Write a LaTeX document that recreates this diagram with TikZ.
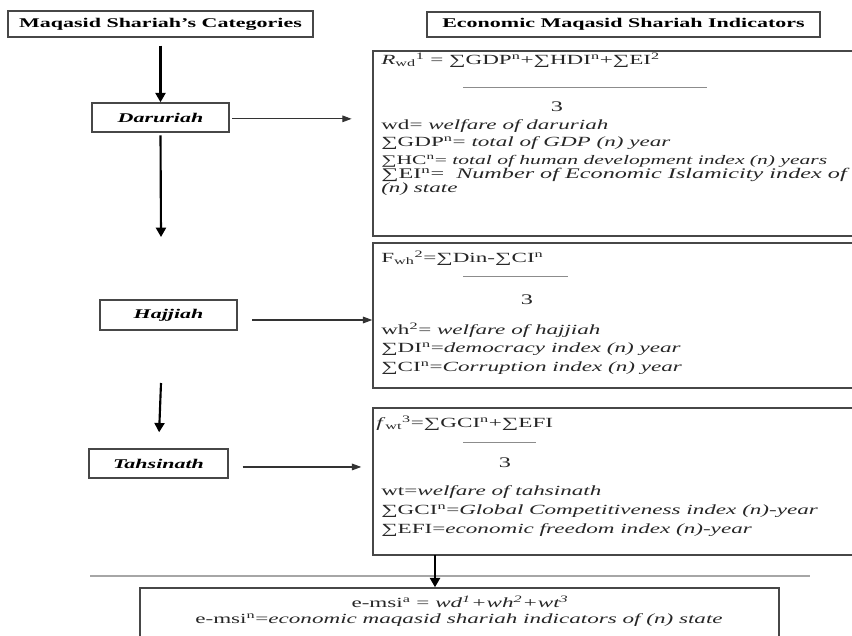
\documentclass[tikz,border=0pt]{standalone}
\usepackage{fontspec}
\setmainfont{Liberation Serif}[FakeStretch=1.65]
\usetikzlibrary{arrows.meta}
\newcommand\supx[1]{\textsuperscript{#1}}
\newcommand\subx[1]{\textsubscript{#1}}
\newcommand\sig{∑}
\begin{document}
\begin{tikzpicture}[x=0.75pt,y=-0.75pt,
  frame/.style={draw=black!72, line width=1.1pt, inner sep=0pt},
  headbox/.style={frame, font=\bfseries\fontsize{10}{12}\selectfont},
  catbox/.style={frame, font=\bfseries\itshape\fontsize{10}{12}\selectfont},
  indbox/.style={frame},
  txt/.style={anchor=west, inner sep=0pt, text=black!85, font=\fontsize{10.5}{12}\selectfont},
  three/.style={inner sep=0pt, text=black!85, font=\fontsize{11}{12}\selectfont},
  fracline/.style={draw=black!45, line width=0.7pt},
  bigarrow/.style={draw=black, line width=1.6pt, -{Triangle[length=7pt,width=7.5pt]}},
  thinarrow/.style={draw=black!80, line width=0.8pt, -{Triangle[length=7pt,width=5pt]}},
]
\useasboundingbox (0,0) rectangle (852,635);
\clip (0,0) rectangle (852,635);

% column headers
\node[headbox, minimum width=305*0.75pt, minimum height=26*0.75pt] (cats) at (160.5,24) {Maqasid Shariah's Categories};
\node[headbox, minimum width=393*0.75pt, minimum height=25*0.75pt] (inds) at (623.5,24.5) {Economic Maqasid Shariah Indicators};

% categories
\node[catbox, minimum width=137*0.75pt, minimum height=29*0.75pt] (dar) at (160.5,117.5) {Daruriah};
\node[catbox, minimum width=137*0.75pt, minimum height=30*0.75pt] (haj) at (168.5,315) {Hajjiah};
\node[catbox, minimum width=139*0.75pt, minimum height=29*0.75pt] (tah) at (158.5,463.5) {Tahsinath};

% indicator panels (they run past the right edge)
\node[indbox, minimum width=507*0.75pt, minimum height=185*0.75pt] (r1) at (626.5,143.5) {};
\node[indbox, minimum width=507*0.75pt, minimum height=145*0.75pt] (r2) at (626.5,315.5) {};
\node[indbox, minimum width=507*0.75pt, minimum height=147*0.75pt] (r3) at (626.5,481.5) {};

% result panel
\node[indbox, minimum width=639*0.75pt, minimum height=72*0.75pt] (emsi) at (459.5,624) {};

% panel 1: daruriah
\node[txt] (r1a) at (381,60) {\textit{R}\subx{wd}\supx{1} = \sig GDP\supx{n}+\sig HDI\supx{n}+\sig EI\supx{2}};
\draw[fracline] (463,87) -- (707,87);
\node[three] (r1b) at (557,107) {3};
\node[txt] (r1c) at (381,126) {wd= \textit{welfare of daruriah}};
\node[txt] (r1d) at (381,143) {\sig GDP\supx{n}= \textit{total of GDP (n) year}};
\node[txt, font=\fontsize{9.8}{12}\selectfont] (r1e) at (381,161) {\sig HC\supx{n}= \textit{total of human development index (n) years}};
\node[txt, font=\fontsize{11}{12}\selectfont] (r1f) at (381,175) {\sig EI\supx{n}= \ \textit{Number of Economic Islamicity index of}};
\node[txt] (r1g) at (381,189) {\textit{(n) state}};

% panel 2: hajjiah
\node[txt] (r2a) at (381,258) {F\subx{wh}\supx{2}=\sig Din-\sig CI\supx{n}};
\draw[fracline] (463,276) -- (568,276);
\node[three] (r2b) at (527,300) {3};
\node[txt] (r2c) at (381,330) {wh\supx{2}= \textit{welfare of hajjiah}};
\node[txt] (r2d) at (381,349) {\sig DI\supx{n}=\textit{democracy index (n) year}};
\node[txt] (r2e) at (381,368) {\sig CI\supx{n}=\textit{Corruption index (n) year}};

% panel 3: tahsinath
\node[txt] (r3a) at (376,423) {\textit{f}\subx{wt}\supx{3}=\sig GCI\supx{n}+\sig EFI};
\draw[fracline] (463,442) -- (536,442);
\node[three] (r3b) at (505,463) {3};
\node[txt] (r3c) at (381,492) {wt=\textit{welfare of tahsinath}};
\node[txt] (r3d) at (381,511) {\sig GCI\supx{n}=\textit{Global Competitiveness index (n)-year}};
\node[txt] (r3e) at (381,530) {\sig EFI=\textit{economic freedom index (n)-year}};

% result text
\node[txt, anchor=center] (e1) at (460,602) {e-msi\supx{a} = \textit{wd\supx{1}+wh\supx{2}+wt\supx{3}}};
\node[txt, anchor=center] (e2) at (459,620) {e-msi\supx{n}=\textit{economic maqasid shariah indicators of (n) state}};

% separator rule
\coordinate (ruleL) at (90,576);
\coordinate (ruleR) at (810,576);
\draw[draw=black!35, line width=1.5pt] (ruleL) -- (ruleR);

% vertical flow on the left
\coordinate (darEnd) at (161,237);
\coordinate (tahStart) at (161,383);
\draw[bigarrow, shorten <=6pt] (cats.south) -- (dar.north);
\draw[bigarrow, shorten <=2pt] (dar.south) -- (darEnd);
\draw[bigarrow, shorten >=12pt] (tahStart) -- (tah.north);

% category to indicator arrows
\draw[thinarrow, shorten <=2pt, shorten >=15.5pt] ([yshift=-1pt]dar.east) -- ([yshift=-1pt]dar.east -| r1.west);
\draw[thinarrow, shorten <=11pt] ([yshift=-3.75pt]haj.east) -- ([yshift=-3.75pt]haj.east -| r2.west);
\draw[thinarrow, shorten <=10.5pt, shorten >=8.25pt] ([yshift=-2.6pt]tah.east) -- ([yshift=-2.6pt]tah.east -| r3.west);

% panel 3 into the result
\coordinate (emsiIn) at (435,555);
\draw[bigarrow] (emsiIn) -- (emsiIn |- emsi.north);
\end{tikzpicture}
\end{document}
